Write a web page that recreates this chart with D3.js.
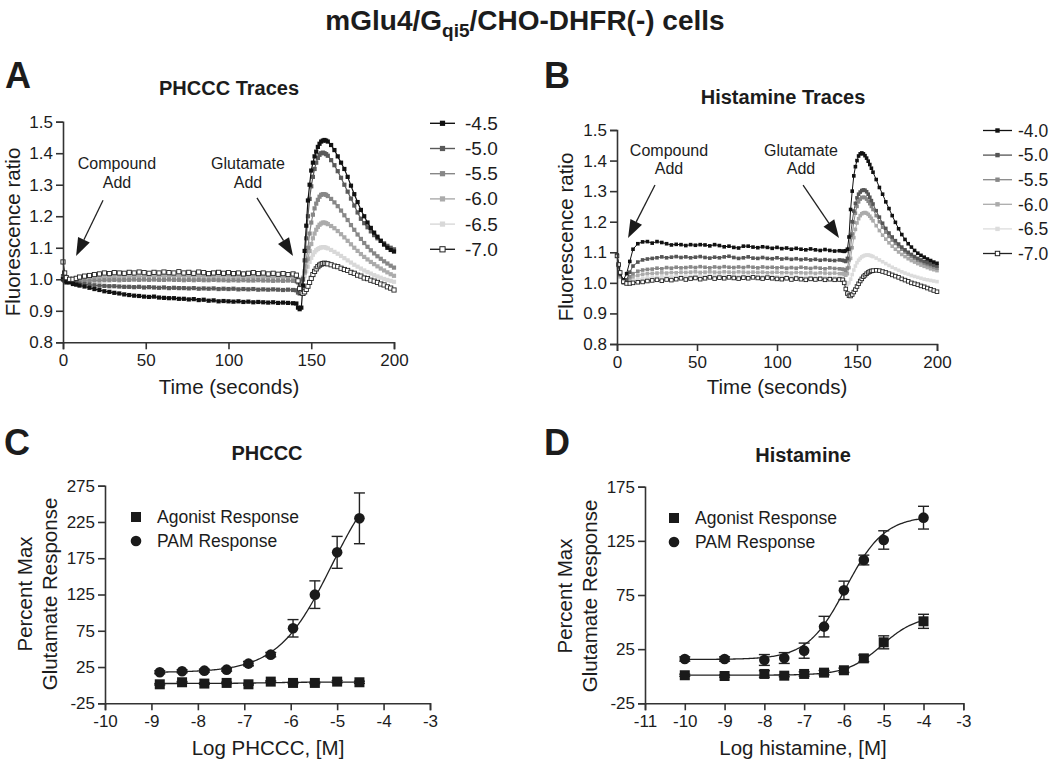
<!DOCTYPE html>
<html><head><meta charset="utf-8">
<script src="https://cdn.jsdelivr.net/npm/d3@7"></script>
<style>body{margin:0;background:#fff} svg{display:block}</style>
</head><body><svg id="c" width="1050" height="759"></svg>
<script>
// ---------- DATA ----------
const traceTimes = [0,1,2,4,6,8,10,13,16,19,22,25,28,31,34,37,40,43,46,49,52,55,58,61,64,67,70,73,76,79,82,85,88,91,94,97,100,103,106,109,112,115,118,121,124,127,130,133,136,139,141,142,143,144,145,146,147,148,149,150,151,152,153,154,155,156,157,158,159,160,162,164,166,168,170,172,174,176,178,180,182,184,186,188,190,192,194,196,198,200];

const phcccTraceLabels = ['-4.5','-5.0','-5.5','-6.0','-6.5','-7.0'];
const phccc_m45 = [1.00,0.995,0.99,0.99,0.985,0.983,0.98,
0.977,0.973,0.969,0.966,0.962,0.96,0.957,0.955,0.952,0.95,0.948,0.947,0.945,0.944,0.945,0.942,0.941,0.94,0.94,0.938,0.938,0.936,0.937,0.934,0.935,0.932,0.933,0.93,0.931,0.93,0.929,0.93,0.928,0.929,0.927,0.928,0.927,0.926,0.927,0.925,0.926,0.925,0.924,
0.923,0.91,0.905,0.91,0.98,1.09,1.17,1.25,1.30,1.345,1.37,1.39,1.405,1.42,1.43,1.437,1.44,1.442,1.44,1.437,
1.426,1.41,1.39,1.37,1.35,1.325,1.297,1.27,1.245,1.22,1.2,1.18,1.163,1.148,1.135,1.122,1.11,1.1,1.093,1.088];
const phccc_m50 = [1.01,1.0,0.995,0.993,0.99,0.988,0.986,
0.985,0.983,0.981,0.98,0.979,0.978,0.978,0.977,0.976,0.976,0.975,0.976,0.974,0.975,0.974,0.973,0.974,0.972,0.973,0.972,0.972,0.971,0.972,0.97,0.971,0.97,0.971,0.969,0.97,0.969,0.97,0.968,0.969,0.968,0.969,0.967,0.968,0.967,0.968,0.967,0.966,0.967,0.966,
0.965,0.958,0.955,0.96,1.0,1.06,1.13,1.2,1.255,1.295,1.325,1.35,1.37,1.385,1.395,1.4,1.402,1.4,1.397,1.392,
1.378,1.362,1.343,1.322,1.3,1.278,1.256,1.234,1.212,1.192,1.178,1.165,1.152,1.14,1.13,1.122,1.114,1.106,1.1,1.095];
const phccc_m55 = [1.0,0.998,0.996,0.995,0.995,0.994,0.994,
0.995,0.995,0.996,0.996,0.997,0.997,0.998,0.997,0.998,0.998,0.999,0.998,0.999,0.998,0.999,0.998,0.998,0.999,0.998,0.998,0.997,0.998,0.997,0.998,0.997,0.997,0.998,0.997,0.997,0.996,0.997,0.996,0.997,0.996,0.996,0.997,0.996,0.996,0.995,0.996,0.995,0.996,0.995,
0.994,0.99,0.985,0.99,1.0,1.025,1.06,1.1,1.145,1.18,1.205,1.225,1.24,1.252,1.262,1.268,1.27,1.27,1.268,1.264,
1.255,1.244,1.232,1.218,1.203,1.188,1.172,1.157,1.142,1.128,1.115,1.103,1.092,1.082,1.073,1.065,1.057,1.05,1.043,1.037];
const phccc_m60 = [1.0,1.0,0.999,0.999,1.0,1.0,1.001,
1.002,1.003,1.004,1.005,1.006,1.006,1.007,1.007,1.008,1.008,1.009,1.008,1.009,1.009,1.01,1.009,1.01,1.009,1.01,1.009,1.009,1.01,1.009,1.009,1.008,1.009,1.008,1.008,1.009,1.008,1.008,1.007,1.008,1.007,1.007,1.008,1.007,1.006,1.007,1.006,1.006,1.005,1.005,
1.004,1.0,0.995,0.998,1.005,1.02,1.04,1.065,1.09,1.112,1.13,1.145,1.157,1.166,1.173,1.177,1.18,1.18,1.178,1.175,
1.169,1.162,1.153,1.143,1.133,1.122,1.111,1.1,1.09,1.08,1.071,1.063,1.055,1.048,1.041,1.034,1.028,1.022,1.016,1.011];
const phccc_m65 = [1.0,1.0,1.0,1.001,1.002,1.003,1.004,
1.006,1.008,1.01,1.011,1.012,1.013,1.014,1.014,1.015,1.015,1.016,1.016,1.016,1.017,1.016,1.017,1.016,1.016,1.017,1.016,1.016,1.015,1.016,1.015,1.015,1.014,1.015,1.014,1.014,1.013,1.014,1.013,1.013,1.012,1.013,1.012,1.012,1.011,1.012,1.011,1.011,1.01,1.01,
1.008,1.0,0.99,0.99,0.998,1.01,1.025,1.04,1.055,1.068,1.078,1.086,1.092,1.096,1.099,1.101,1.102,1.102,1.1,1.098,
1.093,1.087,1.081,1.074,1.067,1.06,1.053,1.046,1.04,1.034,1.028,1.023,1.018,1.013,1.009,1.005,1.001,0.998,0.995,0.992];
const phccc_m70 = [1.055,1.02,1.005,1.0,1.0,1.003,1.007,
1.01,1.012,1.015,1.017,1.02,1.018,1.021,1.02,1.019,1.022,1.02,1.023,1.021,1.019,1.022,1.02,1.023,1.021,1.02,1.024,1.02,1.022,1.019,1.023,1.021,1.018,1.02,1.022,1.019,1.021,1.018,1.02,1.017,1.019,1.021,1.018,1.02,1.017,1.019,1.016,1.018,1.015,1.017,
1.013,0.995,0.97,0.958,0.955,0.96,0.968,0.978,0.99,1.003,1.015,1.025,1.033,1.04,1.045,1.048,1.05,1.051,1.05,1.049,
1.046,1.042,1.04,1.035,1.031,1.028,1.022,1.019,1.013,1.01,1.004,1.002,0.997,0.994,0.99,0.985,0.982,0.976,0.972,0.966];

const histTraceLabels = ['-4.0','-5.0','-5.5','-6.0','-6.5','-7.0'];
const hist_m40 = [1.09,1.06,1.03,1.01,1.03,1.07,1.11,
1.128,1.134,1.135,1.13,1.135,1.132,1.128,1.124,1.126,1.125,1.122,1.125,1.123,1.125,1.124,1.121,1.125,1.122,1.118,1.12,1.116,1.114,1.12,1.12,1.117,1.115,1.118,1.116,1.113,1.116,1.112,1.114,1.11,1.113,1.11,1.108,1.111,1.108,1.106,1.109,1.106,1.104,1.105,
1.104,1.103,1.105,1.11,1.15,1.24,1.30,1.35,1.38,1.40,1.415,1.422,1.425,1.422,1.416,1.408,1.398,1.387,1.375,1.362,
1.338,1.312,1.29,1.265,1.243,1.22,1.198,1.177,1.158,1.142,1.128,1.117,1.106,1.097,1.09,1.084,1.078,1.073,1.068,1.064];
const hist_m50 = [1.09,1.06,1.03,1.005,1.01,1.035,1.055,
1.068,1.075,1.078,1.08,1.082,1.085,1.082,1.084,1.086,1.083,1.085,1.082,1.084,1.086,1.083,1.081,1.084,1.082,1.085,1.087,1.083,1.08,1.082,1.085,1.081,1.08,1.083,1.08,1.079,1.082,1.078,1.08,1.077,1.079,1.076,1.078,1.075,1.077,1.074,1.076,1.074,1.073,1.075,
1.074,1.072,1.07,1.08,1.11,1.155,1.2,1.235,1.26,1.278,1.29,1.297,1.302,1.304,1.303,1.298,1.29,1.28,1.269,1.258,
1.236,1.215,1.195,1.178,1.163,1.15,1.138,1.127,1.117,1.108,1.1,1.093,1.086,1.08,1.075,1.07,1.066,1.062,1.058,1.055];
const hist_m55 = [1.09,1.055,1.025,1.0,1.005,1.02,1.03,
1.038,1.042,1.044,1.045,1.048,1.046,1.05,1.048,1.051,1.049,1.05,1.052,1.05,1.053,1.051,1.049,1.052,1.05,1.053,1.051,1.05,1.052,1.05,1.053,1.051,1.049,1.052,1.05,1.051,1.049,1.051,1.048,1.05,1.048,1.051,1.049,1.047,1.05,1.048,1.046,1.049,1.047,1.046,
1.045,1.043,1.04,1.048,1.075,1.115,1.16,1.198,1.228,1.25,1.265,1.274,1.279,1.28,1.279,1.274,1.267,1.259,1.25,1.24,
1.22,1.2,1.182,1.166,1.152,1.14,1.129,1.119,1.11,1.101,1.093,1.086,1.08,1.074,1.069,1.064,1.06,1.056,1.052,1.048];
const hist_m60 = [1.09,1.05,1.02,1.0,1.002,1.012,1.02,
1.025,1.028,1.03,1.031,1.032,1.033,1.032,1.034,1.033,1.035,1.034,1.035,1.036,1.034,1.035,1.036,1.035,1.034,1.036,1.035,1.034,1.036,1.035,1.034,1.035,1.034,1.035,1.033,1.034,1.035,1.033,1.034,1.032,1.034,1.033,1.032,1.033,1.031,1.033,1.032,1.031,1.032,1.03,
1.03,1.028,1.025,1.03,1.05,1.08,1.115,1.148,1.175,1.196,1.21,1.22,1.226,1.229,1.23,1.228,1.224,1.218,1.211,1.203,
1.187,1.171,1.156,1.143,1.131,1.12,1.11,1.101,1.093,1.086,1.079,1.073,1.068,1.063,1.058,1.054,1.05,1.046,1.043,1.04];
const hist_m65 = [1.09,1.05,1.02,1.0,1.0,1.005,1.01,
1.013,1.015,1.017,1.018,1.019,1.02,1.02,1.021,1.021,1.022,1.021,1.022,1.022,1.023,1.022,1.022,1.023,1.022,1.022,1.021,1.022,1.021,1.022,1.021,1.021,1.02,1.021,1.02,1.02,1.02,1.019,1.02,1.019,1.019,1.018,1.019,1.018,1.018,1.017,1.018,1.017,1.017,1.016,
1.015,1.01,1.0,0.995,1.0,1.012,1.027,1.042,1.055,1.066,1.074,1.08,1.085,1.088,1.09,1.091,1.091,1.09,1.088,1.086,
1.081,1.075,1.069,1.063,1.057,1.051,1.046,1.041,1.036,1.032,1.028,1.024,1.021,1.018,1.015,1.012,1.01,1.008,1.006,1.004];
const hist_m70 = [1.088,1.06,1.034,1.004,0.998,0.998,1.0,
1.002,1.003,1.006,1.008,1.01,1.007,1.011,1.009,1.012,1.015,1.011,1.014,1.016,1.012,1.015,1.018,1.014,1.017,1.015,1.018,1.016,1.014,1.017,1.015,1.018,1.016,1.014,1.017,1.015,1.013,1.012,1.015,1.011,1.014,1.012,1.01,1.013,1.011,1.013,1.01,1.012,1.01,1.011,
1.01,1.0,0.98,0.965,0.958,0.957,0.962,0.97,0.978,0.988,0.997,1.006,1.013,1.02,1.025,1.03,1.034,1.037,1.039,1.04,
1.041,1.04,1.037,1.034,1.03,1.026,1.022,1.018,1.013,1.009,1.005,1.0,0.997,0.994,0.99,0.987,0.983,0.979,0.975,0.971];

const traceXTicks = [0,50,100,150,200];
const traceYTicks = [0.8,0.9,1.0,1.1,1.2,1.3,1.4,1.5];

// dose-response, panel C (PHCCC)
const phcccLogConc = [-8.82,-8.34,-7.86,-7.38,-6.91,-6.43,-5.95,-5.48,-5.0,-4.52];
const phcccAgonist = [1.2,4.0,2.2,3.1,1.2,4.9,3.1,3.1,4.9,4.0];
const phcccAgonistSem = [1,1,1,1,1,1,1,1,1.5,1.5];
const phcccPAM = [17.8,19.2,20.0,21.4,29.7,42.1,78.4,124.8,183.1,230.0];
const phcccPAMSem = [2,2,2,2,3,3,12,19,22,35];
const phcccAgonistFit = {bottom:2.3, top:4.3, logEC50:-6.5, hill:1};
const phcccPAMFit = {bottom:17.5, top:312, logEC50:-5.12, hill:0.75};
const phcccXTicks = [-10,-9,-8,-7,-6,-5,-4,-3];
const phcccYTicks = [-25,25,75,125,175,225,275];

// dose-response, panel D (histamine)
const histLogConc = [-10,-9,-8,-7.5,-7,-6.5,-6,-5.5,-5,-4];
const histAgonist = [0.9,0.2,2.1,0.5,2.1,3.3,5.5,16.5,31.3,50.7];
const histAgonistSem = [1,1,3,1,2,2,2,3,6,6.5];
const histPAM = [15.9,15.9,15.0,16.8,23.6,45.8,79.3,107.3,125.8,146.4];
const histPAMSem = [2,2,5,5,7,9.5,8.5,4.5,8.5,10.5];
const histAgonistFit = {bottom:1, top:56, logEC50:-5.05, hill:1};
const histPAMFit = {bottom:15.5, top:148, logEC50:-5.95, hill:0.9};
const histXTicks = [-11,-10,-9,-8,-7,-6,-5,-4,-3];
const histYTicks = [-25,25,75,125,175];

// ---------- DRAWING ----------
const FONT = '"Liberation Sans", Arial, Helvetica, sans-serif';
const INK = '#1c1c1c';
const svg = d3.select('#c');
svg.append('rect').attr('width',1050).attr('height',759).attr('fill','#fff');

function txt(x, y, s, size, opts={}) {
  const t = svg.append('text').attr('x',x).attr('y',y).text(s)
    .attr('font-family',FONT).attr('font-size',size).attr('fill',INK)
    .attr('text-anchor',opts.anchor||'middle');
  if (opts.bold) t.attr('font-weight','bold');
  if (opts.rotate) t.attr('transform',`rotate(-90,${x},${y})`);
  return t;
}

function axes(x, y, xTicks, yTicks, xFmt, yFmt) {
  const ax = svg.append('g').attr('transform',`translate(0,${y.range()[0]})`)
    .call(d3.axisBottom(x).tickValues(xTicks).tickSizeOuter(0).tickSize(7).tickPadding(5).tickFormat(xFmt));
  const ay = svg.append('g').attr('transform',`translate(${x.range()[0]},0)`)
    .call(d3.axisLeft(y).tickValues(yTicks).tickSizeOuter(0).tickSize(7).tickPadding(3).tickFormat(yFmt));
  [ax,ay].forEach(a=>{
    a.selectAll('path,line').attr('stroke','#333').attr('stroke-width',1.6);
    a.selectAll('text').attr('font-size',17).attr('font-family',FONT).attr('fill',INK);
  });
}

const hy = d => String(d);

function tracePanel(x, y, series, colors, markerSize, lineW) {
  series.forEach((s,i)=>{
    const pts = traceTimes.map((t,k)=>[t,s.values[k]]);
    const col = colors[i];
    const open = s.open;
    svg.append('path').datum(pts)
      .attr('d', d3.line().x(d=>x(d[0])).y(d=>y(d[1])))
      .attr('fill','none').attr('stroke', open ? '#222' : col).attr('stroke-width',lineW);
    svg.append('g').selectAll('rect').data(pts).join('rect')
      .attr('x',d=>x(d[0])-markerSize/2).attr('y',d=>y(d[1])-markerSize/2)
      .attr('width',markerSize).attr('height',markerSize)
      .attr('fill', open ? '#fff' : col)
      .attr('stroke', open ? '#222' : 'none').attr('stroke-width', open?0.9:0);
  });
}

function arrow(x1,y1,x2,y2,headLen,headHalf) {
  const dx=x2-x1, dy=y2-y1, L=Math.hypot(dx,dy), ux=dx/L, uy=dy/L;
  const bx=x2-ux*headLen, by=y2-uy*headLen;
  svg.append('line').attr('x1',x1).attr('y1',y1).attr('x2',bx).attr('y2',by)
    .attr('stroke','#222').attr('stroke-width',1.3);
  svg.append('path').attr('d',`M${x2},${y2}L${bx-uy*headHalf},${by+ux*headHalf}L${bx+uy*headHalf},${by-ux*headHalf}Z`)
    .attr('fill','#1a1a1a');
}

// Main title
const title = svg.append('text').attr('x',525).attr('y',30).attr('text-anchor','middle')
  .attr('font-family',FONT).attr('font-size',28).attr('font-weight','bold').attr('fill',INK);
title.append('tspan').text('mGlu4/G');
title.append('tspan').text('qi5').attr('font-size',19).attr('dy',7);
title.append('tspan').text('/CHO-DHFR(-) cells').attr('dy',-7);

// Panel letters
txt(5,88,'A',36,{bold:true,anchor:'start'});
txt(544,88,'B',36,{bold:true,anchor:'start'});
txt(4,455,'C',36,{bold:true,anchor:'start'});
txt(544,455,'D',36,{bold:true,anchor:'start'});

// ---- Panel A ----
const xA = d3.scaleLinear().domain([0,200]).range([63,394]);
const yA = d3.scaleLinear().domain([0.8,1.5]).range([342.3,121.7]);
txt(229,95,'PHCCC Traces',20,{bold:true});
const colorsA = ['#111','#5a5a5a','#878787','#ababab','#d8d8d8','#222'];
const seriesA = [
  {values:phccc_m45},{values:phccc_m50},{values:phccc_m55},{values:phccc_m60},{values:phccc_m65},{values:phccc_m70,open:true}];
const orderA = [4,3,2,1,0,5];
tracePanel(xA,yA, orderA.map(i=>seriesA[i]), orderA.map(i=>colorsA[i]), 4.2, 1.2);
axes(xA,yA,traceXTicks,traceYTicks,hy,d3.format('.1f'));
txt(13,232,'Fluorescence ratio',20.5,{rotate:true}).attr('dy','0.35em');
txt(229,394,'Time (seconds)',20.5);
// annotations (data coordinates)
const annA = {compText:[32.6,1.369,1.308], compArrow:[24.2,1.251,7.9,1.074], gluText:[111.8,1.369,1.308], gluArrow:[117.2,1.258,139,1.074]};
txt(xA(annA.compText[0]),yA(annA.compText[1])+6,'Compound',16);
txt(xA(annA.compText[0]),yA(annA.compText[2])+6,'Add',16);
txt(xA(annA.gluText[0]),yA(annA.gluText[1])+6,'Glutamate',16);
txt(xA(annA.gluText[0]),yA(annA.gluText[2])+6,'Add',16);
arrow(xA(annA.compArrow[0]),yA(annA.compArrow[1]),xA(annA.compArrow[2]),yA(annA.compArrow[3]),18,6.5);
arrow(xA(annA.gluArrow[0]),yA(annA.gluArrow[1]),xA(annA.gluArrow[2]),yA(annA.gluArrow[3]),18,6.5);
// legend A
phcccTraceLabels.forEach((lab,i)=>{
  const yy = 123.3 + i*25.2;
  svg.append('line').attr('x1',430).attr('x2',455).attr('y1',yy).attr('y2',yy)
    .attr('stroke', i===5?'#222':colorsA[i]).attr('stroke-width',1.4);
  svg.append('rect').attr('x',442.5-2.6).attr('y',yy-2.6).attr('width',5.2).attr('height',5.2)
    .attr('fill', i===5?'#fff':colorsA[i]).attr('stroke', i===5?'#222':'none');
  txt(465,yy+6.5,lab,19,{anchor:'start'});
});

// ---- Panel B ----
const xB = d3.scaleLinear().domain([0,200]).range([617,937]);
const yB = d3.scaleLinear().domain([0.8,1.5]).range([344,130]);
txt(783,104,'Histamine Traces',20,{bold:true});
const colorsB = ['#111','#555','#888','#ababab','#dcdcdc','#222'];
const seriesB = [
  {values:hist_m40},{values:hist_m50},{values:hist_m55},{values:hist_m60},{values:hist_m65},{values:hist_m70,open:true}];
const orderB = [4,3,2,1,0,5];
tracePanel(xB,yB, orderB.map(i=>seriesB[i]), orderB.map(i=>colorsB[i]), 3.6, 1.0);
axes(xB,yB,traceXTicks,traceYTicks,hy,d3.format('.1f'));
txt(566,237,'Fluorescence ratio',20.5,{rotate:true}).attr('dy','0.35em');
txt(777,394,'Time (seconds)',20.5);
const annB = {compText:[32.5,1.435,1.376], compArrow:[23.75,1.32,6.9,1.147], gluText:[115,1.435,1.376], gluArrow:[116.3,1.32,138.75,1.147]};
txt(xB(annB.compText[0]),yB(annB.compText[1])+6,'Compound',16);
txt(xB(annB.compText[0]),yB(annB.compText[2])+6,'Add',16);
txt(xB(annB.gluText[0]),yB(annB.gluText[1])+6,'Glutamate',16);
txt(xB(annB.gluText[0]),yB(annB.gluText[2])+6,'Add',16);
arrow(xB(annB.compArrow[0]),yB(annB.compArrow[1]),xB(annB.compArrow[2]),yB(annB.compArrow[3]),18,6.5);
arrow(xB(annB.gluArrow[0]),yB(annB.gluArrow[1]),xB(annB.gluArrow[2]),yB(annB.gluArrow[3]),18,6.5);
histTraceLabels.forEach((lab,i)=>{
  const yy = 130.5 + i*24.6;
  svg.append('line').attr('x1',983).attr('x2',1012).attr('y1',yy).attr('y2',yy)
    .attr('stroke', i===5?'#222':colorsB[i]).attr('stroke-width',1.3);
  svg.append('rect').attr('x',997.5-2.2).attr('y',yy-2.2).attr('width',4.4).attr('height',4.4)
    .attr('fill', i===5?'#fff':colorsB[i]).attr('stroke', i===5?'#222':'none');
  txt(1018,yy+6.3,lab,17.5,{anchor:'start'});
});

// ---- Dose-response panels ----
function logistic(p){ return v => p.bottom + (p.top-p.bottom)/(1+Math.pow(10,(p.logEC50-v)*p.hill)); }

function dosePanel(x, y, xs, ag, agSem, pam, pamSem, agFit, pamFit) {
  const line = d3.line().x(d=>x(d[0])).y(d=>y(d[1]));
  [[agFit],[pamFit]].forEach(([p])=>{
    const f = logistic(p);
    const n = 200, a = xs[0], b = xs[xs.length-1];
    const pts = d3.range(n+1).map(k=>{const v=a+(b-a)*k/n; return [v,f(v)];});
    svg.append('path').datum(pts).attr('d',line).attr('fill','none').attr('stroke','#222').attr('stroke-width',1.3);
  });
  const eb = (vals, sem) => {
    const g = svg.append('g').attr('stroke','#222').attr('stroke-width',1.4);
    xs.forEach((v,k)=>{
      const cx=x(v), y1=y(vals[k]-sem[k]), y2=y(vals[k]+sem[k]);
      g.append('line').attr('x1',cx).attr('x2',cx).attr('y1',y1).attr('y2',y2);
      g.append('line').attr('x1',cx-5.5).attr('x2',cx+5.5).attr('y1',y1).attr('y2',y1);
      g.append('line').attr('x1',cx-5.5).attr('x2',cx+5.5).attr('y1',y2).attr('y2',y2);
    });
  };
  eb(ag, agSem); eb(pam, pamSem);
  svg.append('g').selectAll('rect').data(xs).join('rect')
    .attr('x',(v)=>x(v)-5).attr('y',(v,k)=>y(ag[k])-5).attr('width',10).attr('height',10).attr('fill','#1a1a1a');
  svg.append('g').selectAll('circle').data(xs).join('circle')
    .attr('cx',v=>x(v)).attr('cy',(v,k)=>y(pam[k])).attr('r',5.3).attr('fill','#1a1a1a');
}

function doseLegend(xm, y1, y2) {
  svg.append('rect').attr('x',xm-5).attr('y',y1-5).attr('width',10).attr('height',10).attr('fill','#1a1a1a');
  svg.append('circle').attr('cx',xm).attr('cy',y2).attr('r',5.3).attr('fill','#1a1a1a');
  txt(xm+21,y1+6.3,'Agonist Response',17.5,{anchor:'start'});
  txt(xm+21,y2+6.3,'PAM Response',17.5,{anchor:'start'});
}

// Panel C
const xC = d3.scaleLinear().domain([-10,-3]).range([105,430]);
const yC = d3.scaleLinear().domain([-25,275]).range([703.3,485.7]);
txt(267,460,'PHCCC',20,{bold:true});
dosePanel(xC,yC,phcccLogConc,phcccAgonist,phcccAgonistSem,phcccPAM,phcccPAMSem,phcccAgonistFit,phcccPAMFit);
axes(xC,yC,phcccXTicks,phcccYTicks,hy,hy);
doseLegend(136,517,541);
txt(25,594,'Percent Max',20.5,{rotate:true}).attr('dy','0.35em');
txt(50,594,'Glutamate Response',20.5,{rotate:true}).attr('dy','0.35em');
txt(268,755,'Log PHCCC, [M]',20.5);

// Panel D
const xD = d3.scaleLinear().domain([-11,-3]).range([645,963.3]);
const yD = d3.scaleLinear().domain([-25,175]).range([703.3,486.7]);
txt(803,462,'Histamine',20,{bold:true});
dosePanel(xD,yD,histLogConc,histAgonist,histAgonistSem,histPAM,histPAMSem,histAgonistFit,histPAMFit);
axes(xD,yD,histXTicks,histYTicks,hy,hy);
doseLegend(674,518,542);
txt(565,596,'Percent Max',20.5,{rotate:true}).attr('dy','0.35em');
txt(590,596,'Glutamate Response',20.5,{rotate:true}).attr('dy','0.35em');
txt(803,755,'Log histamine, [M]',20.5);
</script></body></html>
